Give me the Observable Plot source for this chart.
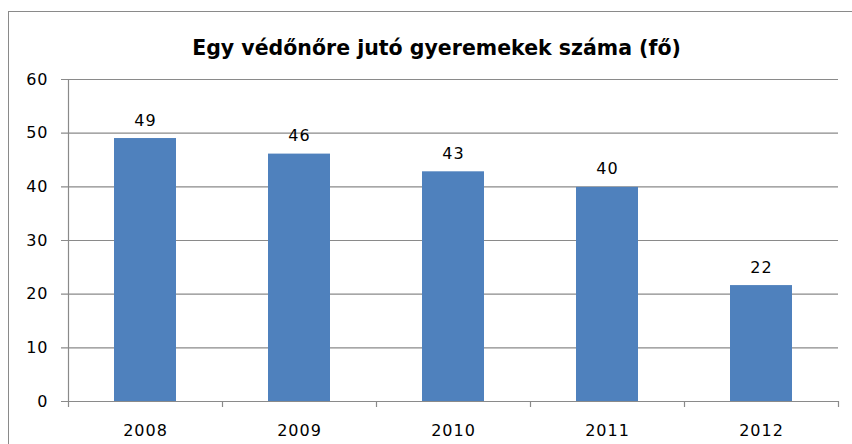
<!DOCTYPE html>
<html>
<head>
<meta charset="utf-8">
<script src="https://cdn.jsdelivr.net/npm/d3@7"></script>
<script src="https://cdn.jsdelivr.net/npm/@observablehq/plot@0.6"></script>
<style>
  html, body { margin: 0; padding: 0; background: #fff; overflow: hidden; }
  #wrap { position: relative; width: 852px; height: 444px; }
  #border { position: absolute; left: 8px; top: 11px; width: 900px; height: 500px;
            border: 1px solid #8a8a8a; pointer-events: none; box-sizing: border-box; }
  #chart svg text { letter-spacing: 1px; }
  #chart svg .title text { letter-spacing: 0; }
</style>
</head>
<body>
<div id="wrap"><div id="chart"></div><div id="border"></div></div>
<script>
const title = "Egy védőnőre jutó gyeremekek száma (fő)";
const years = ["2008", "2009", "2010", "2011", "2012"];
const values = [49, 46.1, 42.8, 39.9, 21.6];
const valueLabels = ["49", "46", "43", "40", "22"];
const yTicks = [0, 10, 20, 30, 40, 50, 60];

const data = years.map((year, i) => ({year, value: values[i], label: valueLabels[i]}));

const W = 852, H = 444, ML = 68, MR = 14, MT = 79, MB = 43;
const step = (W - ML - MR) / years.length;

const chart = Plot.plot({
  width: W, height: H,
  marginLeft: ML, marginRight: MR, marginTop: MT, marginBottom: MB,
  style: {fontFamily: "DejaVu Sans, sans-serif", fontSize: "16px", color: "#000", background: "#fff", overflow: "visible"},
  x: {domain: years, paddingInner: 0.6, paddingOuter: 0.3, label: null},
  y: {domain: [0, 60], label: null},
  marks: [
    Plot.ruleY(yTicks, {stroke: "#8a8a8a", strokeWidth: 1.2, insetLeft: -7}),
    Plot.barY(data, {x: "year", y: "value", fill: "#4F81BD"}),
    Plot.ruleX(years, {x: d => d, y1: 0, y2: 0, insetBottom: -6, dx: -step / 2, stroke: "#8a8a8a", strokeWidth: 1.2}),
    Plot.ruleX(years.slice(-1), {x: d => d, y1: 0, y2: 0, insetBottom: -6, dx: step / 2, stroke: "#8a8a8a", strokeWidth: 1.2}),
    Plot.frame({anchor: "left", stroke: "#8a8a8a", strokeWidth: 1.2}),
    Plot.axisY({ticks: yTicks, tickSize: 0, tickPadding: 20, label: null, fontSize: 16}),
    Plot.axisX({tickSize: 0, tickPadding: 23, label: null, fontSize: 16}),
    Plot.text(data, {x: "year", y: "value", text: "label", dy: -18, fontSize: 16, fill: "#000"}),
    Plot.text([title], {text: d => d, frameAnchor: "top", dy: -39, dx: -17, fontWeight: "bold", fontSize: 20.5, fill: "#000", className: "title"})
  ]
});
document.getElementById("chart").appendChild(chart);
</script>
</body>
</html>
